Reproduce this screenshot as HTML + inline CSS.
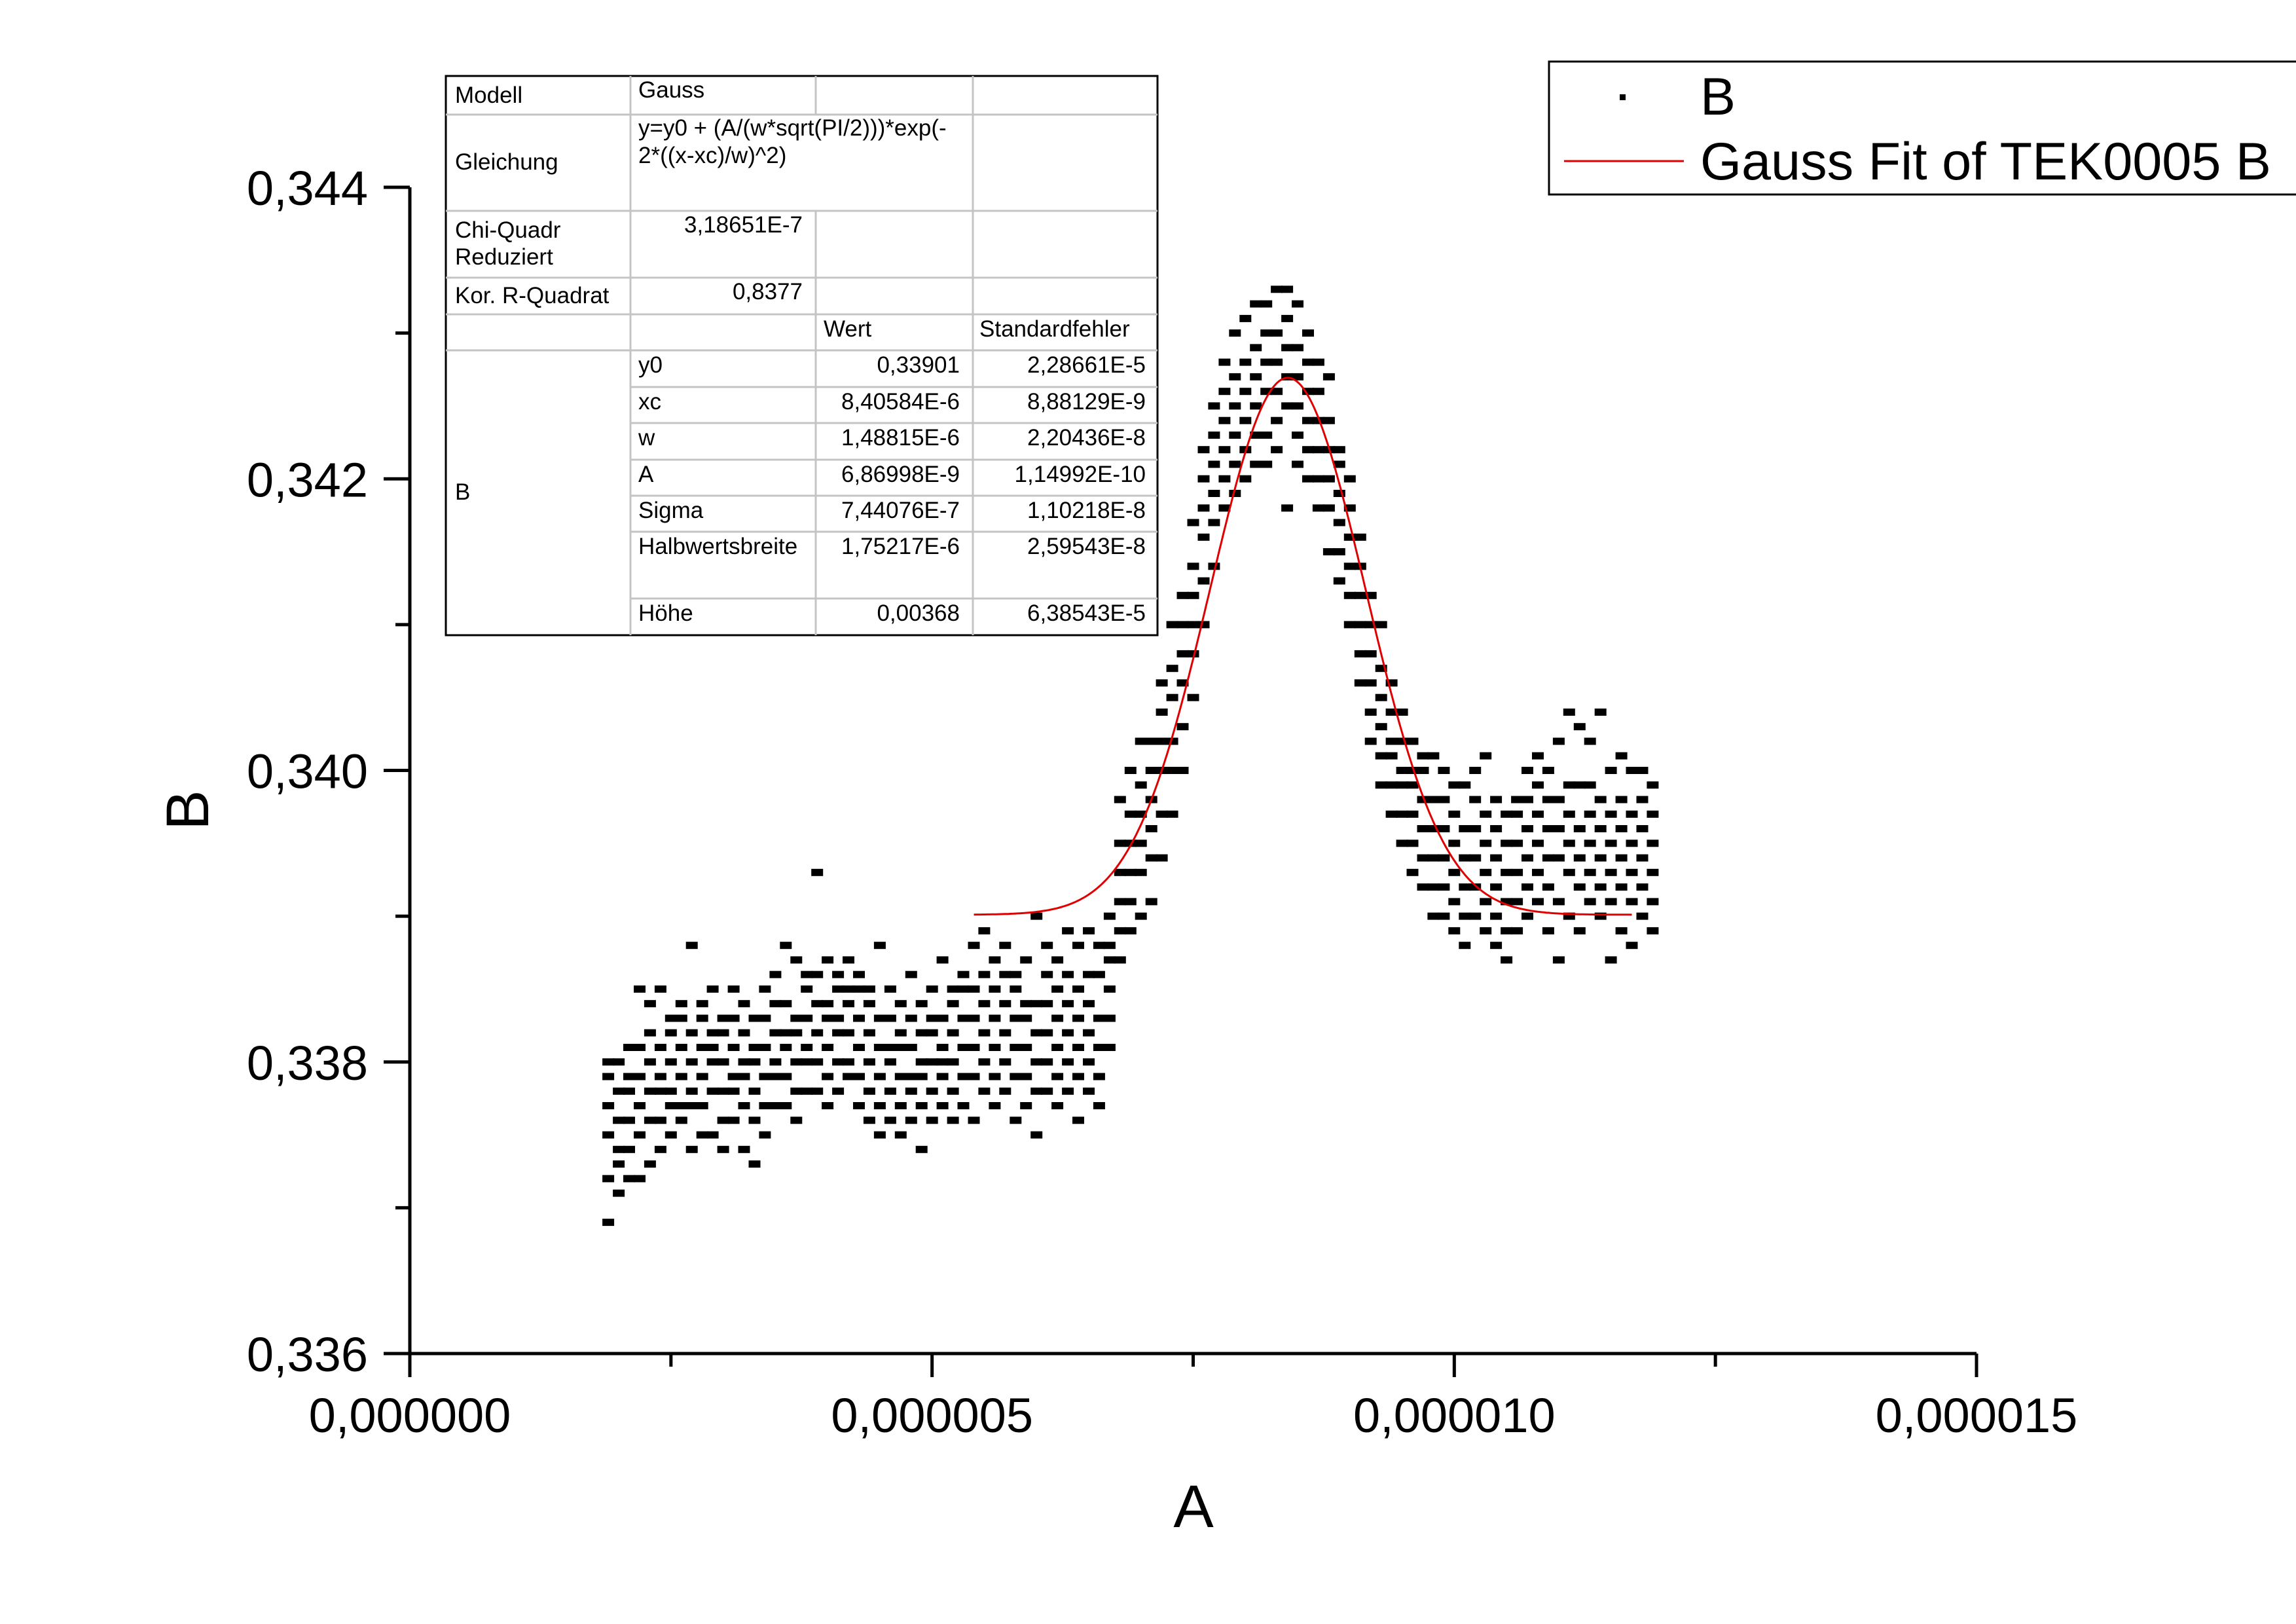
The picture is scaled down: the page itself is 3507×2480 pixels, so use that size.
<!DOCTYPE html>
<html><head><meta charset="utf-8"><style>
html,body{margin:0;padding:0;background:#fff;}
svg{display:block;font-family:"Liberation Sans",Arial,sans-serif;}
</style></head><body>
<svg id="chart" width="3507" height="2480" viewBox="0 0 3507 2480" xmlns="http://www.w3.org/2000/svg">
<rect width="3507" height="2480" fill="#fff"/>
<g id="points"></g>
<path id="fit" fill="none" stroke="#e00000" stroke-width="3"/>
<g id="axes"></g>
<text x="286" y="1237" font-size="92" text-anchor="middle" transform="rotate(-90 286 1237)" dy="32">B</text>
<text x="1823" y="2332" font-size="92" text-anchor="middle">A</text>

<g font-size="35" fill="#000">
<rect x="681" y="116" width="1087" height="854" fill="#fff" stroke="#000" stroke-width="3"/>
<g stroke="#c4c4c4" stroke-width="3">
<line x1="681" y1="175" x2="1768" y2="175"/>
<line x1="681" y1="322" x2="1768" y2="322"/>
<line x1="681" y1="424" x2="1768" y2="424"/>
<line x1="681" y1="480" x2="1768" y2="480"/>
<line x1="681" y1="535" x2="1768" y2="535"/>
<line x1="963" y1="591" x2="1768" y2="591"/>
<line x1="963" y1="646" x2="1768" y2="646"/>
<line x1="963" y1="702" x2="1768" y2="702"/>
<line x1="963" y1="757" x2="1768" y2="757"/>
<line x1="963" y1="812" x2="1768" y2="812"/>
<line x1="963" y1="914" x2="1768" y2="914"/>
<line x1="963" y1="116" x2="963" y2="970"/>
<line x1="1246" y1="116" x2="1246" y2="175"/>
<line x1="1246" y1="322" x2="1246" y2="970"/>
<line x1="1486" y1="116" x2="1486" y2="970"/>
</g>
<text x="695" y="157">Modell</text>
<text x="975" y="149">Gauss</text>
<text x="695" y="259">Gleichung</text>
<text x="975" y="207">y=y0 + (A/(w*sqrt(PI/2)))*exp(-</text>
<text x="975" y="249">2*((x-xc)/w)^2)</text>
<text x="695" y="363">Chi-Quadr</text>
<text x="695" y="404">Reduziert</text>
<text x="1226" y="355" text-anchor="end">3,18651E-7</text>
<text x="695" y="463">Kor. R-Quadrat</text>
<text x="1226" y="457" text-anchor="end">0,8377</text>
<text x="1258" y="514">Wert</text>
<text x="1496" y="514">Standardfehler</text>
<text x="695" y="763">B</text>
<g text-anchor="start">
<text x="975" y="569">y0</text><text x="975" y="625">xc</text><text x="975" y="680">w</text>
<text x="975" y="736">A</text><text x="975" y="791">Sigma</text><text x="975" y="846">Halbwertsbreite</text>
<text x="975" y="948">Höhe</text>
</g>
<g text-anchor="end">
<text x="1466" y="569">0,33901</text><text x="1466" y="625">8,40584E-6</text><text x="1466" y="680">1,48815E-6</text>
<text x="1466" y="736">6,86998E-9</text><text x="1466" y="791">7,44076E-7</text><text x="1466" y="846">1,75217E-6</text>
<text x="1466" y="948">0,00368</text>
<text x="1750" y="569">2,28661E-5</text><text x="1750" y="625">8,88129E-9</text><text x="1750" y="680">2,20436E-8</text>
<text x="1750" y="736">1,14992E-10</text><text x="1750" y="791">1,10218E-8</text><text x="1750" y="846">2,59543E-8</text>
<text x="1750" y="948">6,38543E-5</text>
</g>
</g>

<g>
<rect x="2366" y="94" width="1150" height="203" fill="#fff" stroke="#000" stroke-width="3"/>
<rect x="2474" y="144" width="9" height="9" fill="#000"/>
<text x="2597" y="175" font-size="81">B</text>
<line x1="2389" y1="246" x2="2572" y2="246" stroke="#e00000" stroke-width="3"/>
<text x="2597" y="274" font-size="81">Gauss Fit of TEK0005 B</text>
</g>
</svg>
<script>
const xTicks = [0, 5, 10, 15];
const xTickLabels = ["0,000000", "0,000005", "0,000010", "0,000015"];
const yTicks = [0.336, 0.338, 0.340, 0.342, 0.344];
const yTickLabels = ["0,336", "0,338", "0,340", "0,342", "0,344"];
// A values in units of 1e-6
const colX = [1.9,2.0,2.1,2.2,2.3,2.4,2.5,2.6,2.7,2.8,2.9,3.0,3.1,3.2,3.3,3.4,3.5,3.6,3.7,3.8,3.9,4.0,4.1,4.2,4.3,4.4,4.5,4.6,4.7,4.8,4.9,5.0,5.1,5.2,5.3,5.4,5.5,5.6,5.7,5.8,5.9,6.0,6.1,6.2,6.3,6.4,6.5,6.6,6.7,6.8,6.9,7.0,7.1,7.2,7.3,7.4,7.5,7.6,7.7,7.8,7.9,8.0,8.1,8.2,8.3,8.4,8.5,8.6,8.7,8.8,8.9,9.0,9.1,9.2,9.3,9.4,9.5,9.6,9.7,9.8,9.9,10.0,10.1,10.2,10.3,10.4,10.5,10.6,10.7,10.8,10.9,11.0,11.1,11.2,11.3,11.4,11.5,11.6,11.7,11.8,11.9];
const colY = [
[.3369,.3372,.3375,.3377,.3379,.3380],[.3371,.3373,.3374,.3376,.3378,.3380],[.3372,.3374,.3376,.3378,.3379,.3381],[.3372,.3375,.3377,.3379,.3381,.3385],
[.3373,.3376,.3378,.3380,.3382,.3384],[.3374,.3376,.3378,.3379,.3381,.3385],[.3375,.3377,.3378,.3380,.3382,.3383],[.3376,.3377,.3379,.3381,.3383,.3384],
[.3374,.3377,.3378,.3380,.3382,.3388],[.3375,.3377,.3379,.3381,.3383,.3384],[.3375,.3378,.3380,.3381,.3382,.3385],[.3374,.3376,.3378,.3380,.3382,.3383],
[.3376,.3378,.3379,.3381,.3383,.3385],[.3374,.3377,.3379,.3380,.3382,.3384],[.3373,.3376,.3378,.3380,.3381,.3383],[.3375,.3377,.3379,.3381,.3383,.3385],
[.3377,.3379,.3380,.3382,.3384,.3386],[.3377,.3379,.3381,.3382,.3384,.3388],[.3376,.3378,.3380,.3382,.3383,.3387],[.3378,.3380,.3381,.3383,.3385,.3386],
[.3378,.3380,.3382,.3384,.3386,.3393],[.3377,.3379,.3381,.3383,.3384,.3387],[.3378,.3380,.3382,.3383,.3385,.3386],[.3379,.3380,.3382,.3384,.3385,.3387],
[.3377,.3379,.3381,.3383,.3385,.3386],[.3376,.3378,.3380,.3382,.3384,.3385],[.3375,.3377,.3379,.3381,.3383,.3388],[.3376,.3378,.3380,.3381,.3383,.3385],
[.3375,.3377,.3379,.3381,.3382,.3384],[.3376,.3378,.3379,.3381,.3383,.3386],[.3374,.3377,.3379,.3380,.3382,.3384],[.3376,.3378,.3380,.3382,.3383,.3385],
[.3377,.3379,.3380,.3381,.3383,.3387],[.3376,.3378,.3380,.3382,.3384,.3385],[.3377,.3379,.3381,.3383,.3385,.3386],[.3376,.3379,.3381,.3383,.3385,.3388],
[.3378,.3380,.3382,.3384,.3386,.3389],[.3377,.3379,.3381,.3383,.3385,.3387],[.3378,.3380,.3382,.3384,.3386,.3388],[.3376,.3379,.3381,.3383,.3385,.3386],
[.3377,.3379,.3381,.3383,.3384,.3387],[.3375,.3378,.3380,.3382,.3384,.3390],[.3378,.3380,.3382,.3384,.3386,.3388],[.3377,.3379,.3381,.3383,.3385,.3387],
[.3378,.3380,.3382,.3384,.3386,.3389],[.3376,.3379,.3381,.3383,.3385,.3388],[.3378,.3380,.3382,.3384,.3386,.3389],[.3377,.3379,.3381,.3383,.3386,.3388],
[.3381,.3383,.3385,.3387,.3388,.3390],[.3387,.3389,.3391,.3393,.3395,.3398],[.3389,.3391,.3393,.3395,.3397,.3400],[.3390,.3393,.3395,.3397,.3399,.3402],
[.3391,.3394,.3396,.3398,.3400,.3402],[.3394,.3397,.3400,.3402,.3404,.3406],[.3397,.3400,.3402,.3405,.3407,.3410],[.3400,.3403,.3406,.3408,.3410,.3412],
[.3405,.3408,.3410,.3412,.3414,.3417],[.3410,.3413,.3416,.3418,.3420,.3422],[.3414,.3417,.3419,.3421,.3423,.3425],[.3418,.3420,.3422,.3424,.3426,.3428],
[.3419,.3421,.3423,.3425,.3427,.3430],[.3420,.3422,.3424,.3426,.3428,.3431],[.3421,.3423,.3425,.3427,.3429,.3432],[.3421,.3423,.3426,.3428,.3430,.3432],
[.3422,.3424,.3426,.3428,.3430,.3433],[.3418,.3425,.3427,.3429,.3431,.3433],[.3421,.3423,.3425,.3427,.3429,.3432],[.3420,.3422,.3424,.3426,.3428,.3430],
[.3418,.3420,.3422,.3424,.3426,.3428],[.3415,.3418,.3420,.3422,.3424,.3427],[.3413,.3415,.3417,.3419,.3421,.3422],[.3410,.3412,.3414,.3416,.3418,.3420],
[.3406,.3408,.3410,.3412,.3414,.3416],[.3402,.3404,.3406,.3408,.3410,.3412],[.3399,.3401,.3403,.3405,.3407,.3410],[.3397,.3399,.3401,.3402,.3404,.3406],
[.3395,.3397,.3399,.3400,.3402,.3404],[.3393,.3395,.3397,.3399,.3400,.3402],[.3392,.3394,.3396,.3398,.3400,.3401],[.3390,.3392,.3394,.3396,.3398,.3401],
[.3390,.3392,.3394,.3396,.3398,.3400],[.3389,.3391,.3393,.3395,.3397,.3399],[.3388,.3390,.3392,.3394,.3396,.3399],[.3390,.3392,.3394,.3396,.3398,.3400],
[.3389,.3391,.3393,.3395,.3397,.3401],[.3388,.3390,.3392,.3394,.3396,.3398],[.3387,.3389,.3391,.3393,.3395,.3397],[.3389,.3391,.3393,.3395,.3397,.3398],
[.3390,.3392,.3394,.3396,.3398,.3400],[.3391,.3393,.3395,.3397,.3399,.3401],[.3389,.3392,.3394,.3396,.3398,.3400],[.3387,.3391,.3394,.3396,.3398,.3402],
[.3390,.3393,.3395,.3397,.3399,.3404],[.3389,.3392,.3394,.3396,.3399,.3403],[.3391,.3393,.3395,.3397,.3399,.3402],[.3390,.3392,.3394,.3396,.3398,.3404],
[.3387,.3391,.3393,.3395,.3397,.3400],[.3389,.3392,.3394,.3396,.3398,.3401],[.3388,.3391,.3393,.3395,.3397,.3400],[.3390,.3392,.3394,.3396,.3398,.3400],
[.3389,.3391,.3393,.3395,.3397,.3399]
];
// Gauss fit parameters (x in units of 1e-6)
const fitY0 = 0.33901;
const fitXc = 8.40584;
const fitW = 1.48815;
const fitA = 0.00686998;
const fitRange = [5.4, 11.7];

const X0 = 626, X1 = 3019, Y0 = 2067, Y1 = 286;
const xMin = 0, xMax = 15, yMin = 0.336, yMax = 0.344;
function sx(v){ return X0 + (v - xMin) / (xMax - xMin) * (X1 - X0); }
function sy(v){ return Y0 - (v - yMin) / (yMax - yMin) * (Y0 - Y1); }
const NS = "http://www.w3.org/2000/svg";
function mk(tag, attrs){ const e = document.createElementNS(NS, tag); for (const k in attrs) e.setAttribute(k, attrs[k]); return e; }

const pg = document.getElementById('points');
colX.forEach((x, i) => {
  colY[i].forEach(y => {
    const r = mk('rect', {x: (sx(x) - 9).toFixed(1), y: (sy(y) - 5.5).toFixed(1), width: 18, height: 11, fill: '#000'});
    
    
    pg.appendChild(r);
  });
});

let d = '';
const n = 300;
for (let i = 0; i <= n; i++) {
  const x = fitRange[0] + (fitRange[1] - fitRange[0]) * i / n;
  const y = fitY0 + fitA / (fitW * Math.sqrt(Math.PI / 2)) * Math.exp(-2 * Math.pow((x - fitXc) / fitW, 2));
  d += (i ? 'L' : 'M') + sx(x).toFixed(1) + ' ' + sy(y).toFixed(1);
}
document.getElementById('fit').setAttribute('d', d);

const ax = document.getElementById('axes');
const yAxis = mk('line', {x1: X0, y1: Y0 + 2, x2: X0, y2: Y1, stroke: '#000', 'stroke-width': 5});


ax.appendChild(yAxis);
const xAxis = mk('line', {x1: X0 - 2, y1: Y0, x2: X1, y2: Y0, stroke: '#000', 'stroke-width': 5});


ax.appendChild(xAxis);
xTicks.forEach((t, i) => {
  const l = mk('line', {x1: sx(t), y1: Y0, x2: sx(t), y2: Y0 + 36, stroke: '#000', 'stroke-width': 5});
  
  
  ax.appendChild(l);
  const tx = mk('text', {x: sx(t), y: 2187, 'font-size': 74, 'text-anchor': 'middle'});
  tx.textContent = xTickLabels[i];
  
  
  ax.appendChild(tx);
  if (i < xTicks.length - 1) {
    const m = mk('line', {x1: sx(t + 2.5), y1: Y0, x2: sx(t + 2.5), y2: Y0 + 20, stroke: '#000', 'stroke-width': 5});
    
    
    ax.appendChild(m);
  }
});
yTicks.forEach((t, i) => {
  const l = mk('line', {x1: X0 - 40, y1: sy(t), x2: X0, y2: sy(t), stroke: '#000', 'stroke-width': 5});
  
  
  ax.appendChild(l);
  const tx = mk('text', {x: 562, y: sy(t) + 27, 'font-size': 74, 'text-anchor': 'end'});
  tx.textContent = yTickLabels[i];
  
  
  ax.appendChild(tx);
  if (i < yTicks.length - 1) {
    const m = mk('line', {x1: X0 - 22, y1: sy(t + 0.001), x2: X0, y2: sy(t + 0.001), stroke: '#000', 'stroke-width': 5});
    
    
    ax.appendChild(m);
  }
});
</script>
</body></html>
